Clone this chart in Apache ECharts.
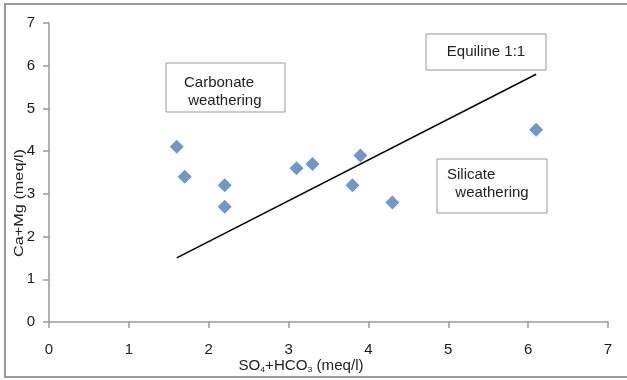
<!DOCTYPE html>
<html>
<head>
<meta charset="utf-8">
<script src="https://cdn.jsdelivr.net/npm/echarts@6/dist/echarts.min.js"></script>
<style>
  html, body { margin: 0; padding: 0; background: #fff; }
  #chart { width: 627px; height: 380px; }
</style>
</head>
<body>
<div id="chart"></div>
<script>
// 数据
var so4Hco3 = [1.6, 1.7, 2.2, 2.2, 3.1, 3.3, 3.8, 3.9, 4.3, 6.1];
var caMg = [4.1, 3.4, 3.2, 2.7, 3.6, 3.7, 3.2, 3.9, 2.8, 4.5];
var equiline = [[1.6, 1.5], [6.1, 5.8]];
var axisTicks = [0, 1, 2, 3, 4, 5, 6, 7];

var chart = echarts.init(document.getElementById('chart'));

var points = so4Hco3.map(function (x, i) { return [x, caMg[i]]; });

var axisCommon = {
  type: 'value',
  min: axisTicks[0],
  max: axisTicks[axisTicks.length - 1],
  interval: 1,
  splitLine: { show: false },
  axisLine: { show: true, lineStyle: { color: '#9a9a9a', width: 1.5 } },
  axisTick: { show: true, inside: false, length: 6, lineStyle: { color: '#9a9a9a', width: 1.5 } },
  axisLabel: { color: '#1a1a1a', fontSize: 15, fontFamily: 'Liberation Sans' }
};

var option = {
  animation: false,
  grid: { left: 49, right: 19, top: 23, bottom: 58 },
  xAxis: echarts.util.merge({ axisLabel: { margin: 20 } }, axisCommon),
  yAxis: echarts.util.merge({ axisLabel: { margin: 14 } }, axisCommon),
  series: [
    {
      type: 'scatter',
      data: points,
      symbol: 'diamond',
      symbolSize: 14,
      itemStyle: { color: '#4a7ebb' }
    },
    {
      type: 'line',
      data: equiline,
      showSymbol: false,
      lineStyle: { color: '#000', width: 1.5 }
    }
  ],
  graphic: [
    // 外框
    { type: 'rect', shape: { x: 5, y: 4, width: 700, height: 373 },
      style: { fill: null, stroke: '#999', lineWidth: 2 }, silent: true },
    // 标注框
    { type: 'rect', shape: { x: 166, y: 63, width: 119, height: 49 },
      style: { fill: '#fff', stroke: '#999', lineWidth: 1 } },
    { type: 'text', x: 184, y: 92,
      style: { text: 'Carbonate\n weathering', fill: '#222', font: '15px Liberation Sans',
        textAlign: 'left', textVerticalAlign: 'middle', lineHeight: 18 } },
    { type: 'rect', shape: { x: 426, y: 34, width: 120, height: 36 },
      style: { fill: '#fff', stroke: '#999', lineWidth: 1 } },
    { type: 'text', x: 486, y: 52,
      style: { text: 'Equiline 1:1', fill: '#222', font: '15px Liberation Sans',
        textAlign: 'center', textVerticalAlign: 'middle' } },
    { type: 'rect', shape: { x: 437, y: 159, width: 110, height: 54 },
      style: { fill: '#fff', stroke: '#999', lineWidth: 1 } },
    { type: 'text', x: 447, y: 184,
      style: { text: 'Silicate\n  weathering', fill: '#222', font: '15px Liberation Sans',
        textAlign: 'left', textVerticalAlign: 'middle', lineHeight: 18 } },
    // 轴标题
    { type: 'text', x: 19, y: 203, rotation: Math.PI / 2, scaleX: 1.25,
      style: { text: 'Ca+Mg (meq/l)', fill: '#222', font: '13px Liberation Sans',
        textAlign: 'center', textVerticalAlign: 'middle' } },
    { type: 'text', x: 301, y: 366, scaleX: 1.08,
      style: { text: 'SO{s|4}+HCO{s|3} (meq/l)', fill: '#222', font: '14px Liberation Sans',
        textAlign: 'center', textVerticalAlign: 'middle',
        rich: { s: { fontSize: 8, fill: '#222', padding: [8, 0, 0, 0] } } } }
  ]
};

chart.setOption(option);
</script>
</body>
</html>
